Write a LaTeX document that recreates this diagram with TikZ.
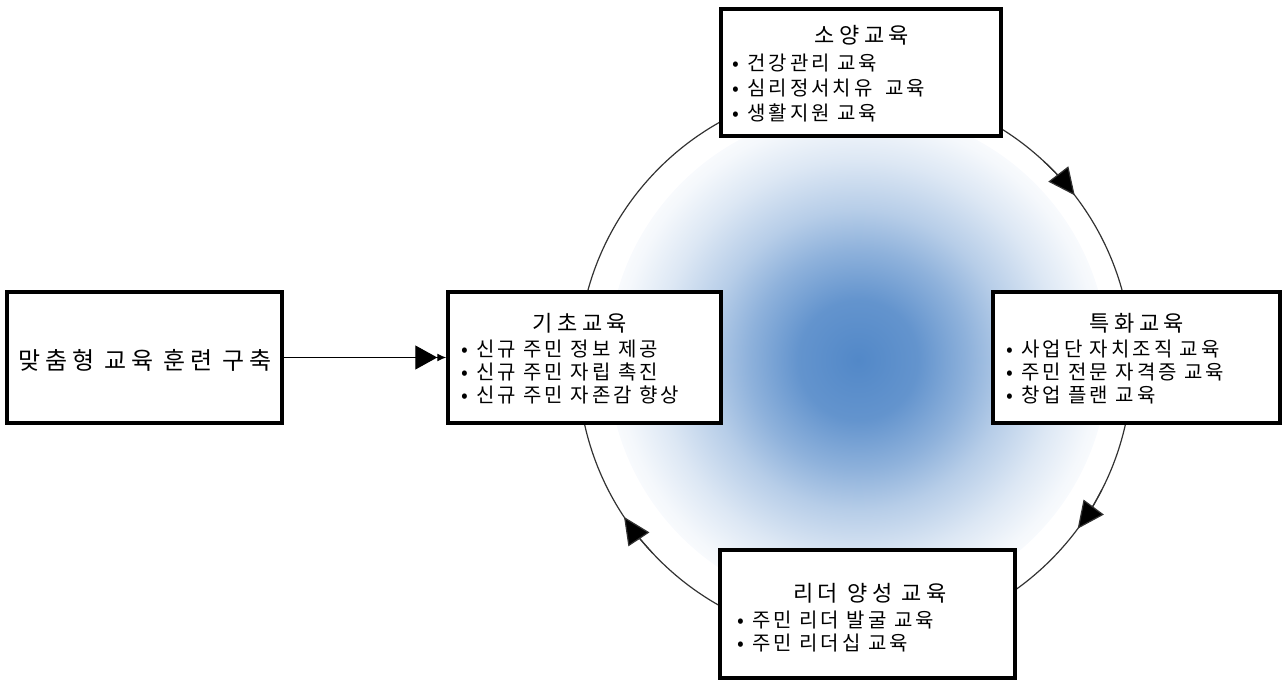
\documentclass[tikz,border=0pt]{standalone}
\usepackage{fontspec}
\setmainfont{Noto Sans CJK KR}
\newfontfamily\ttlfont[LetterSpace=20]{Noto Sans CJK KR}
\newfontfamily\lstfont[LetterSpace=15]{Noto Sans CJK KR}
\newfontfamily\bigfont[LetterSpace=20]{Noto Sans CJK KR}
\usetikzlibrary{arrows.meta}
\definecolor{glowc}{RGB}{82,136,200}
\definecolor{ringc}{RGB}{50,50,50}
\colorlet{gA}{glowc!90!white}
\colorlet{gB}{glowc!65!white}
\colorlet{gC}{glowc!42!white}
\colorlet{gD}{glowc!20!white}
\colorlet{gE}{glowc!6!white}
\pgfdeclareradialshading{glow}{\pgfpoint{0bp}{0bp}}{color(0bp)=(glowc); color(6bp)=(gA); color(11bp)=(gB); color(15bp)=(gC); color(20bp)=(gD); color(24bp)=(gE); color(27bp)=(white); color(50bp)=(white)}
\newcommand\bul{\makebox[15pt][l]{•}}
\begin{document}
\begin{tikzpicture}[x=1pt,y=1pt,
  box/.style={draw=black, line width=3.5pt, fill=white, inner sep=0pt},
  ttl/.style={font={\ttlfont\fontsize{22}{26}\selectfont}, inner sep=0pt},
  lst/.style={font={\lstfont\fontsize{20}{#1}\selectfont}, align=left, inner sep=0pt, anchor=west},
  lst/.default=23,
  ring/.style={draw=ringc, line width=1.2pt},
  ctip/.style={-{Triangle[length=27pt,width=25pt,fill=black]}}]
\useasboundingbox (0,0) rectangle (1286,683);
% glow
\coordinate (g) at (858,323);
\shade[shading=glow] (g) circle[radius=250];
% ring
\coordinate (c) at (855,319);
\draw[ring] (c) circle[radius=277];
% arrowheads on the ring (clockwise)
\draw[ring, ctip] (c) ++(47:277) arc[start angle=47, end angle=37.5, radius=277];
\draw[ring, ctip] (c) ++(-27:277) arc[start angle=-27, end angle=-36.5, radius=277];
\draw[ring, ctip] (c) ++(223:277) arc[start angle=223, end angle=213.5, radius=277];
% boxes
\node[box, minimum width=280pt, minimum height=127pt] (T) at (861,610.5) {};
\node[box, minimum width=287pt, minimum height=131pt] (R) at (1136.5,325.5) {};
\node[box, minimum width=273pt, minimum height=131pt] (B) at (584.5,325.5) {};
\node[box, minimum width=295pt, minimum height=128pt] (D) at (867.5,69) {};
\node[box, minimum width=275pt, minimum height=131pt] (L) at (144.5,325.5) {};
% texts
\node[ttl] (Tt) at (862,648) {소양교육};
\node[lst=25] (Tl) at (732,595) {\bul 건강관리 교육\\ \bul 심리정서치유\hspace{5pt} 교육\\ \bul 생활지원 교육};
\node[ttl] (Rt) at (1137,360) {특화교육};
\node[lst] (Rl) at (1006,311) {\bul 사업단 자치조직 교육\\ \bul 주민 전문 자격증 교육\\ \bul 창업 플랜 교육};
\node[ttl] (Bt) at (580,360) {기초교육};
\node[lst] (Bl) at (461,311) {\bul 신규 주민 정보 제공\\ \bul 신규 주민 자립 촉진\\ \bul 신규 주민 자존감 향상};
\node[ttl] (Dt) at (870,90) {리더 양성 교육};
\node[lst] (Dl) at (737,51.5) {\bul 주민 리더 발굴 교육\\ \bul 주민 리더십 교육};
\node[font={\bigfont\fontsize{24}{28}\selectfont}, inner sep=0pt] (Lt) at (145,323) {맞춤형 교육 훈련 구축};
% arrow
\draw[line width=1.2pt, -{Triangle[length=22pt,width=24pt] Latex[length=9pt,width=8pt]}] (L.east) -- (B.west);
\end{tikzpicture}
\end{document}
